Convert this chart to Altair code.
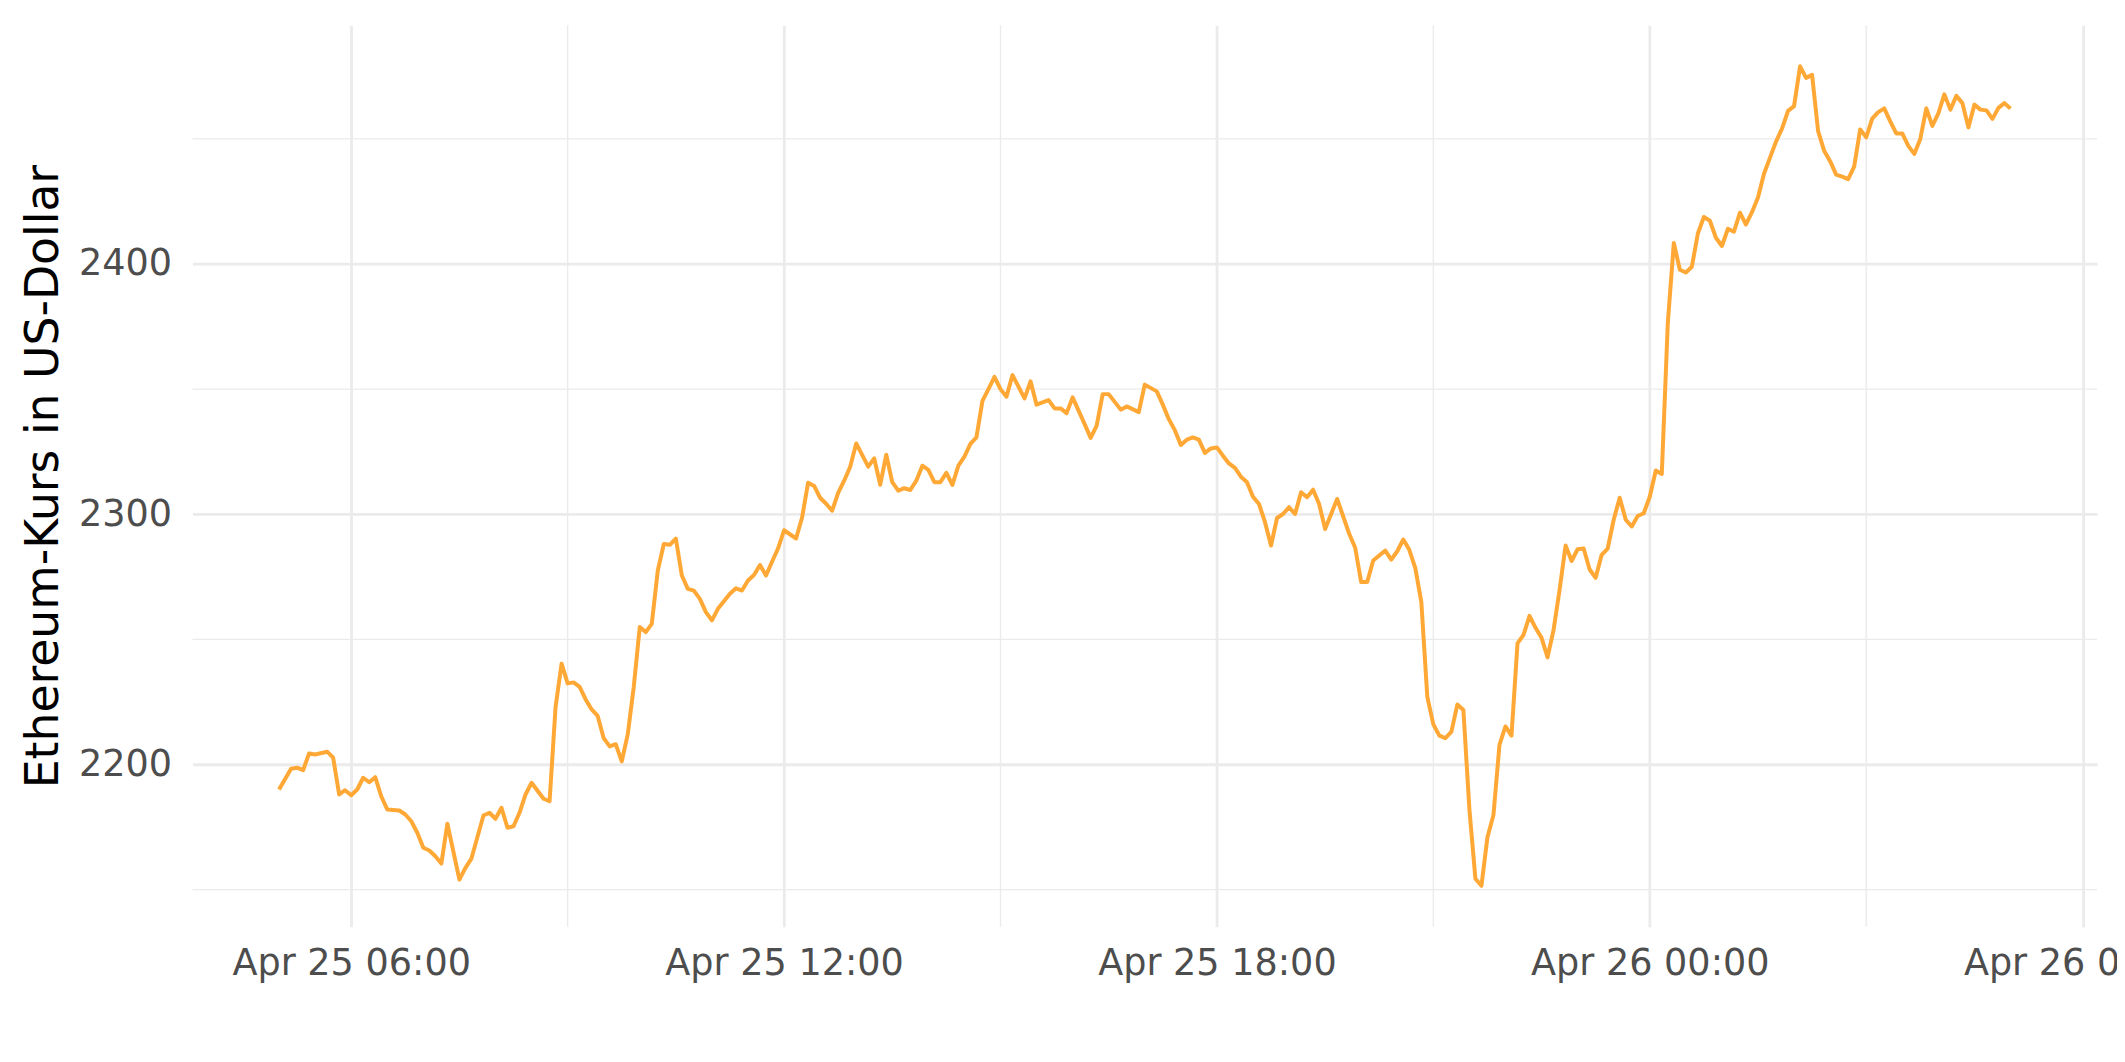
import altair as alt
import pandas as pd

# Minutes after 2021-04-25 00:00 and the Ethereum price
minutes = [
    300, 310, 315, 320, 325, 330, 340, 345, 350, 355,
    360, 365, 370, 375, 380, 385, 390, 400, 405, 410,
    415, 420, 425, 430, 435, 440, 450, 455, 460, 470,
    475, 480, 485, 490, 495, 500, 505, 510, 520, 525,
    530, 535, 540, 545, 550, 555, 560, 565, 570, 575,
    580, 585, 590, 595, 600, 605, 610, 615, 620, 625,
    630, 635, 640, 645, 650, 655, 660, 665, 675, 680,
    685, 690, 695, 700, 705, 710, 715, 720, 730, 735,
    740, 745, 750, 755, 760, 765, 770, 775, 780, 790,
    795, 800, 805, 810, 815, 820, 825, 830, 835, 840,
    845, 850, 855, 860, 865, 870, 875, 880, 885, 890,
    895, 900, 905, 910, 920, 925, 930, 940, 945, 950,
    955, 960, 970, 975, 980, 985, 990, 1000, 1005, 1015,
    1020, 1030, 1035, 1040, 1045, 1050, 1055, 1060, 1065, 1070,
    1075, 1080, 1085, 1090, 1095, 1100, 1105, 1110, 1115, 1120,
    1125, 1130, 1135, 1140, 1145, 1150, 1155, 1160, 1165, 1170,
    1180, 1190, 1195, 1200, 1205, 1210, 1215, 1220, 1225, 1230,
    1235, 1240, 1245, 1250, 1255, 1260, 1265, 1270, 1275, 1280,
    1285, 1290, 1295, 1300, 1305, 1310, 1315, 1320, 1325, 1330,
    1335, 1340, 1345, 1350, 1355, 1360, 1365, 1370, 1375, 1380,
    1385, 1390, 1395, 1400, 1405, 1410, 1415, 1420, 1425, 1430,
    1435, 1440, 1445, 1450, 1455, 1460, 1465, 1470, 1475, 1480,
    1485, 1490, 1495, 1500, 1505, 1510, 1515, 1520, 1525, 1530,
    1535, 1540, 1545, 1550, 1555, 1560, 1565, 1570, 1575, 1580,
    1585, 1590, 1595, 1600, 1605, 1610, 1615, 1620, 1625, 1630,
    1635, 1640, 1645, 1650, 1655, 1660, 1665, 1670, 1675, 1680,
    1685, 1690, 1695, 1700, 1705, 1710, 1715, 1720, 1725, 1730,
    1735, 1740,
]
prices = [
    2190.0, 2198.3, 2198.7, 2197.7, 2204.4, 2204.0, 2205.1, 2202.7, 2188.0, 2189.7,
    2187.7, 2190.0, 2194.7, 2192.9, 2194.9, 2187.3, 2182.0, 2181.6, 2180.0, 2177.3,
    2172.7, 2166.7, 2165.6, 2163.3, 2160.4, 2176.3, 2154.0, 2158.7, 2162.4, 2179.6,
    2180.7, 2178.3, 2182.7, 2174.7, 2175.3, 2180.7, 2188.0, 2192.7, 2186.3, 2185.3,
    2223.1, 2240.3, 2232.4, 2232.8, 2231.0, 2226.0, 2222.0, 2219.4, 2210.5, 2207.2,
    2208.1, 2201.2, 2212.0, 2231.0, 2254.9, 2252.9, 2256.2, 2277.5, 2288.1, 2287.8,
    2290.3, 2275.5, 2270.2, 2269.5, 2266.2, 2260.9, 2257.6, 2262.2, 2268.2, 2270.4,
    2269.5, 2273.5, 2275.7, 2279.7, 2275.5, 2281.0, 2286.3, 2293.6, 2290.3, 2298.7,
    2312.6, 2311.3, 2306.6, 2304.2, 2301.4, 2308.5, 2313.4, 2319.0, 2328.3, 2319.0,
    2322.3, 2311.8, 2323.8, 2312.8, 2309.4, 2310.4, 2309.7, 2313.4, 2319.4, 2317.7,
    2312.8, 2312.8, 2316.5, 2311.7, 2319.4, 2323.0, 2328.1, 2330.7, 2345.3, 2350.0,
    2354.9, 2350.0, 2347.0, 2355.6, 2346.3, 2353.1, 2343.8, 2345.6, 2342.3, 2342.3,
    2340.4, 2346.7, 2336.0, 2330.5, 2335.4, 2348.0, 2348.0, 2341.8, 2343.1, 2340.8,
    2351.8, 2349.1, 2343.8, 2338.0, 2333.6, 2327.7, 2329.8, 2330.7, 2329.8, 2324.5,
    2326.3, 2326.7, 2323.4, 2320.3, 2318.5, 2315.0, 2312.8, 2307.0, 2304.1, 2296.8,
    2287.5, 2298.5, 2300.1, 2302.8, 2300.1, 2308.8, 2306.8, 2309.8, 2304.1, 2294.1,
    2306.1, 2292.2, 2286.6, 2272.9, 2272.9, 2281.5, 2283.5, 2285.5, 2281.9, 2285.2,
    2289.9, 2285.8, 2278.5, 2265.0, 2227.0, 2216.0, 2211.5, 2210.5, 2213.0, 2224.0,
    2221.8, 2182.0, 2154.3, 2151.5, 2170.9, 2179.8, 2207.8, 2215.2, 2211.5, 2248.4,
    2251.8, 2259.4, 2254.6, 2250.6, 2242.8, 2253.8, 2269.8, 2287.5, 2281.3, 2286.0,
    2286.3, 2277.9, 2274.6, 2283.8, 2286.3, 2297.8, 2306.6, 2297.8, 2295.1, 2299.3,
    2300.4, 2307.0, 2317.5, 2316.1, 2376.4, 2408.4, 2397.7, 2396.6, 2398.9, 2412.2,
    2418.8, 2417.3, 2410.5, 2407.2, 2414.1, 2412.9, 2420.5, 2415.8, 2420.7, 2426.6,
    2436.1, 2442.5, 2448.9, 2454.1, 2461.2, 2463.1, 2479.0, 2474.4, 2475.6, 2453.1,
    2445.3, 2441.1, 2435.7, 2434.9, 2433.9, 2438.9, 2453.8, 2450.6, 2458.1, 2460.7,
    2462.2, 2457.0, 2452.2, 2452.2, 2447.2, 2444.0, 2450.0, 2462.2, 2455.2, 2460.2,
    2467.8, 2461.7, 2467.2, 2464.3, 2454.6, 2463.7, 2461.7, 2461.4, 2458.0, 2462.4,
    2464.3, 2462.1,
]

major_x_hours = [6, 12, 18, 24, 30]     # hours after 2021-04-25 00:00
minor_x_hours = [9, 15, 21, 27]
major_y = [2200, 2300, 2400]
minor_y = [2150, 2250, 2350, 2450]

origin = pd.Timestamp("2021-04-25 00:00")


def iso(m):
    return (origin + pd.Timedelta(minutes=m)).strftime("%Y-%m-%dT%H:%M:%S")


def dt(m):
    t = origin + pd.Timedelta(minutes=m)
    return alt.DateTime(year=t.year, month=t.month, date=t.day,
                        hours=t.hour, minutes=t.minute)


df = pd.DataFrame({"zeit": [iso(m) for m in minutes], "kurs": prices})
minor_x_df = pd.DataFrame({"zeit": [iso(h * 60) for h in minor_x_hours]})
minor_y_df = pd.DataFrame({"kurs": minor_y})

# ggplot-like 5% expansion of the data range
xr = max(minutes) - min(minutes)
x_dom = [dt(min(minutes) - 0.05 * xr), dt(max(minutes) + 0.05 * xr)]
yr = max(prices) - min(prices)
y_dom = [min(prices) - 0.05 * yr, max(prices) + 0.05 * yr]

FONT = "DejaVu Sans"
GRID = "#EBEBEB"

x_enc = alt.X(
    "zeit:T",
    scale=alt.Scale(domain=x_dom, nice=False),
    axis=alt.Axis(
        values=[dt(h * 60) for h in major_x_hours],
        format="%b %d %H:%M",
        title=None,
        grid=True, gridColor=GRID, gridWidth=2.8,
        domain=False, ticks=False,
        labelFont=FONT, labelFontSize=36.7, labelColor="#4D4D4D",
        labelPadding=19, labelFlush=False, labelOverlap=False,
        labelBound=False, labelLimit=0,
    ),
)
y_enc = alt.Y(
    "kurs:Q",
    scale=alt.Scale(domain=y_dom, nice=False, zero=False),
    axis=alt.Axis(
        values=major_y,
        format="d",
        title="Ethereum-Kurs in US-Dollar",
        titleFont=FONT, titleFontSize=45.8, titleColor="#000000",
        titleFontWeight="normal", titlePadding=11,
        grid=True, gridColor=GRID, gridWidth=2.8,
        domain=False, ticks=False,
        labelFont=FONT, labelFontSize=36.7, labelColor="#4D4D4D",
        labelPadding=21, labelLimit=0,
    ),
)

minor_v = alt.Chart(minor_x_df).mark_rule(color=GRID, strokeWidth=1.4).encode(x=x_enc)
minor_h = alt.Chart(minor_y_df).mark_rule(color=GRID, strokeWidth=1.4).encode(y=y_enc)
line = alt.Chart(df).mark_line(
    color="#FFA836", strokeWidth=4, strokeJoin="round"
).encode(x=x_enc, y=y_enc)

chart = alt.layer(minor_v, minor_h, line).properties(
    width=1910,
    height=904,
    padding={"left": 185, "top": 16, "right": 20, "bottom": 70},
    autosize=alt.AutoSizeParams(type="none"),
    background="white",
).configure_view(stroke=None)

chart.save("out.html", embed_options={"renderer": "svg", "actions": False})
